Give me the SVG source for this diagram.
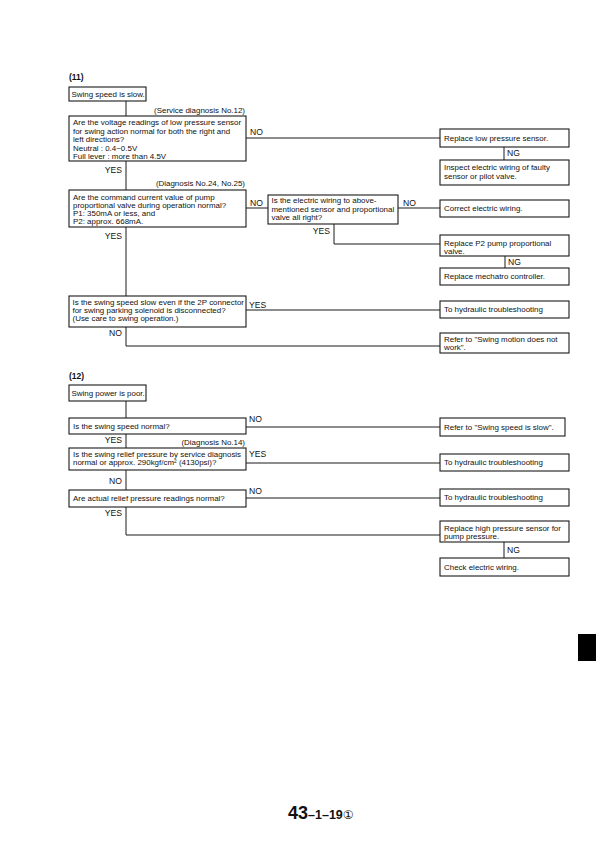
<svg xmlns="http://www.w3.org/2000/svg" width="602" height="846" viewBox="0 0 602 846">
<style>
text{font-family:"Liberation Sans",Arial,sans-serif;font-size:7.95px;fill:#111}
.t{font-weight:bold;font-size:8.5px}
.box{fill:#fff;stroke:#1a1a1a;stroke-width:1.1}
.ln{fill:none;stroke:#1a1a1a;stroke-width:1}
.e{text-anchor:end}
.lbl{font-size:8.6px}
</style>
<rect width="602" height="846" fill="#fff"/>
<g id="connectors">
<path class="ln" d="M126,101V116M126,161V190M126,227V296M126,327V346H440"/>
<path class="ln" d="M246,138H440M504,147V160"/>
<path class="ln" d="M246,208H268M398,208H440M334,224V244H440M505,256V268"/>
<path class="ln" d="M246,310H440"/>
<path class="ln" d="M126,401V418M126,434V448M126,470V490M126,507V535H440"/>
<path class="ln" d="M246,427H440M246,463H440M246,498H440M504,542V558"/>
</g>
<g id="labels">
<text class="t" x="69" y="80">(11)</text>
<text class="e" x="245" y="113">(Service diagnosis No.12)</text>
<text class="lbl" x="250" y="135">NO</text>
<text class="lbl" x="507" y="156">NG</text>
<text class="lbl e" x="122" y="173">YES</text>
<text class="e" x="245" y="186">(Diagnosis No.24, No.25)</text>
<text class="lbl" x="250" y="206">NO</text>
<text class="lbl" x="403" y="206">NO</text>
<text class="lbl e" x="330" y="234">YES</text>
<text class="lbl e" x="122" y="239">YES</text>
<text class="lbl" x="508" y="265">NG</text>
<text class="lbl" x="249" y="308">YES</text>
<text class="lbl e" x="122" y="336">NO</text>
<text class="t" x="69" y="379">(12)</text>
<text class="lbl" x="249" y="422">NO</text>
<text class="lbl e" x="122" y="443">YES</text>
<text class="e" x="245" y="445">(Diagnosis No.14)</text>
<text class="lbl" x="249" y="457">YES</text>
<text class="lbl e" x="122" y="484">NO</text>
<text class="lbl" x="249" y="494">NO</text>
<text class="lbl e" x="122" y="516">YES</text>
<text class="lbl" x="507" y="553">NG</text>
</g>
<g id="n_start11"><rect class="box" x="69" y="87" width="77" height="14"/><text x="71.5" y="97">Swing speed is slow.</text></g>
<g id="n_q1"><rect class="box" x="69" y="116" width="177" height="45"/>
<text x="73" y="125">Are the voltage readings of low pressure sensor</text>
<text x="73" y="133.5">for swing action normal for both the right and</text>
<text x="73" y="142">left directions?</text>
<text x="73" y="150.5">Neutral : 0.4~0.5V</text>
<text x="73" y="159">Full lever : more than 4.5V</text></g>
<g id="n_r1"><rect class="box" x="440" y="129" width="129" height="18"/><text x="444" y="141">Replace low pressure sensor.</text></g>
<g id="n_r2"><rect class="box" x="440" y="160" width="129" height="25"/><text x="444" y="170">Inspect electric wiring of faulty</text><text x="444" y="178.5">sensor or pilot valve.</text></g>
<g id="n_q2"><rect class="box" x="69" y="190" width="177" height="37"/>
<text x="73" y="200">Are the command current value of pump</text>
<text x="73" y="208">proportional valve during operation normal?</text>
<text x="73" y="216">P1: 350mA or less, and</text>
<text x="73" y="224">P2: approx. 668mA.</text></g>
<g id="n_q2b"><rect class="box" x="268" y="195" width="130" height="29"/>
<text x="271.5" y="203">Is the electric wiring to above-</text>
<text x="271.5" y="211.5">mentioned sensor and proportional</text>
<text x="271.5" y="220">valve all right?</text></g>
<g id="n_r3"><rect class="box" x="440" y="200" width="129" height="17"/><text x="444" y="211">Correct electric wiring.</text></g>
<g id="n_r4"><rect class="box" x="440" y="235" width="129" height="21"/><text x="444" y="245.5">Replace P2 pump proportional</text><text x="444" y="253.5">valve.</text></g>
<g id="n_r5"><rect class="box" x="440" y="268" width="129" height="17"/><text x="444" y="279">Replace mechatro controller.</text></g>
<g id="n_q3"><rect class="box" x="69" y="296" width="177" height="31"/>
<text x="72.5" y="305">Is the swing speed slow even if the 2P connector</text>
<text x="72.5" y="313">for swing parking solenoid is disconnected?</text>
<text x="72.5" y="321">(Use care to swing operation.)</text></g>
<g id="n_r6"><rect class="box" x="440" y="301" width="129" height="17"/><text x="444" y="312">To hydraulic troubleshooting</text></g>
<g id="n_r7"><rect class="box" x="440" y="333" width="129" height="20"/><text x="444" y="342">Refer to "Swing motion does not</text><text x="444" y="350">work".</text></g>
<g id="n_start12"><rect class="box" x="69" y="385" width="77" height="16"/><text x="71.5" y="396">Swing power is poor.</text></g>
<g id="n_q4"><rect class="box" x="69" y="418" width="177" height="16"/><text x="73" y="429">Is the swing speed normal?</text></g>
<g id="n_r8"><rect class="box" x="440" y="418" width="125" height="18"/><text x="444" y="430">Refer to "Swing speed is slow".</text></g>
<g id="n_q5"><rect class="box" x="69" y="448" width="177" height="22"/>
<text x="73" y="456.5">Is the swing relief pressure by service diagnosis</text>
<text x="73" y="465">normal or approx. 290kgf/cm² (4130psi)?</text></g>
<g id="n_r9"><rect class="box" x="440" y="454" width="129" height="17"/><text x="444" y="465">To hydraulic troubleshooting</text></g>
<g id="n_q6"><rect class="box" x="69" y="490" width="177" height="17"/><text x="73" y="501">Are actual relief pressure readings normal?</text></g>
<g id="n_r10"><rect class="box" x="440" y="489" width="129" height="17"/><text x="444" y="500">To hydraulic troubleshooting</text></g>
<g id="n_r11"><rect class="box" x="440" y="521" width="129" height="21"/><text x="444" y="530.5">Replace high pressure sensor for</text><text x="444" y="539">pump pressure.</text></g>
<g id="n_r12"><rect class="box" x="440" y="558" width="129" height="18"/><text x="444" y="570">Check electric wiring.</text></g>
<rect x="578" y="634" width="18" height="27" fill="#000"/>
<text x="288" y="819" style="font-weight:bold;font-size:18px">43<tspan style="font-size:12.5px">–1–19</tspan><tspan style="font-size:12px;font-weight:normal;font-family:'DejaVu Sans','Noto Sans CJK JP',sans-serif">①</tspan></text>
</svg>
